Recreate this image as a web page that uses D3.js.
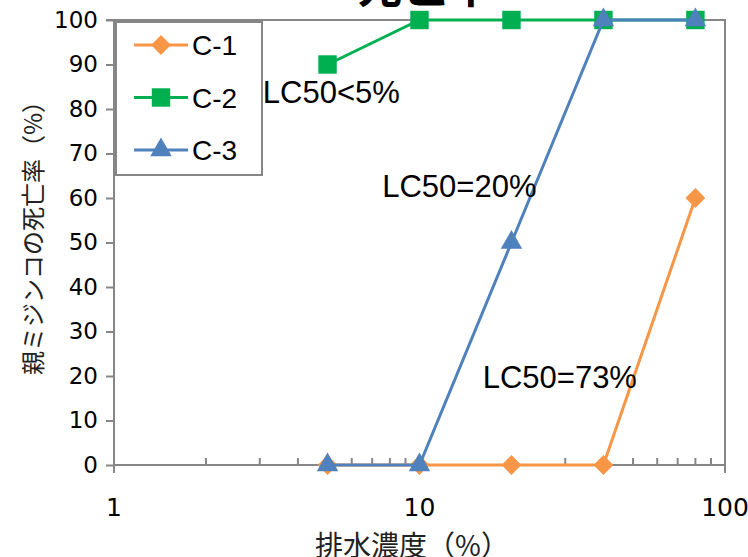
<!DOCTYPE html>
<html><head><meta charset="utf-8">
<script src="https://cdn.jsdelivr.net/npm/d3@7"></script>
<style>body{margin:0;background:#fff}svg{display:block}</style>
</head><body><svg id="c" width="748" height="557"></svg>
<script>
const concentrations = [5, 10, 20, 40, 80];
const seriesNames = ["C-1", "C-2", "C-3"];
const c1 = [0, 0, 0, 0, 60];
const c2 = [90, 100, 100, 100, 100];
const c3 = [0, 0, 50, 100, 100];
const yTicks = [0, 10, 20, 30, 40, 50, 60, 70, 80, 90, 100];
const xTicks = [1, 10, 100];
const annotations = [
  {text: "LC50<5%", x: 3.07, y: 81.3},
  {text: "LC50=20%", x: 7.55, y: 60.2},
  {text: "LC50=73%", x: 16.1, y: 17.3}
];
const titleText = "死亡率";
const xTitle = "排水濃度（%）";
const yTitle = "親ミジンコの死亡率（%）";

const colors = {"C-1": "#F79646", "C-2": "#00B050", "C-3": "#4F81BD"};
const symbols = {"C-1": d3.symbolDiamond2, "C-2": d3.symbolSquare, "C-3": d3.symbolTriangle};
const symSize = {"C-1": 250, "C-2": 340, "C-3": 200};
const data = {"C-1": c1, "C-2": c2, "C-3": c3};

const svg = d3.select("#c");
const L = 114, R = 725, T = 20, B = 465;
const x = d3.scaleLog().domain([1, 100]).range([L, R]);
const y = d3.scaleLinear().domain([0, 100]).range([B, T]);
const axisColor = "#868686";
const numFont = "DejaVu Sans, Verdana, sans-serif";
const jpFont = "'Noto Sans CJK JP', sans-serif";
const latFont = "Liberation Sans, Arial, sans-serif";

// title (cut at top, as in the reference)
svg.append("text").attr("x", 425).attr("y", 2).attr("text-anchor", "middle")
  .attr("font-family", jpFont).attr("font-weight", "bold").attr("font-size", 46)
  .attr("fill", "#000").text(titleText);

// plot border top/right
svg.append("path").attr("d", `M${L},${T}H${R}V${B + 8}`).attr("fill", "none")
  .attr("stroke", axisColor).attr("stroke-width", 2);

// y axis
const yAxis = d3.axisLeft(y).tickValues(yTicks).tickSize(8).tickPadding(8);
const gy = svg.append("g").attr("transform", `translate(${L},0)`).call(yAxis);
gy.select(".domain").attr("stroke", axisColor).attr("stroke-width", 2)
  .attr("d", `M-8,${T}H0V${B + 8}`);
gy.selectAll(".tick line").attr("stroke", axisColor).attr("stroke-width", 2);
gy.selectAll("text").attr("font-family", numFont).attr("font-size", 23).attr("fill", "#000");

// x axis
const minor = [];
[1, 10].forEach(d => { for (let k = 2; k <= 9; k++) minor.push(d * k); });
const gx = svg.append("g").attr("transform", `translate(0,${B})`);
gx.append("line").attr("x1", L).attr("x2", R).attr("stroke", axisColor).attr("stroke-width", 2);
gx.selectAll(".minor").data(minor).join("line").attr("class", "minor")
  .attr("x1", d => x(d)).attr("x2", d => x(d)).attr("y1", -7).attr("y2", 0)
  .attr("stroke", axisColor).attr("stroke-width", 2);
gx.selectAll(".major").data(xTicks).join("line").attr("class", "major")
  .attr("x1", d => x(d)).attr("x2", d => x(d)).attr("y1", -7).attr("y2", 8)
  .attr("stroke", axisColor).attr("stroke-width", 2);
gx.selectAll(".lbl").data(xTicks).join("text").attr("class", "lbl")
  .attr("x", d => x(d)).attr("y", 51).attr("text-anchor", "middle")
  .attr("font-family", numFont).attr("font-size", 25).attr("fill", "#000")
  .text(d => d3.format("d")(d));

// axis titles
svg.append("text").attr("x", 412).attr("y", 556).attr("text-anchor", "middle")
  .attr("font-family", jpFont).attr("font-size", 28).attr("fill", "#222").text(xTitle);
svg.append("text").attr("transform", "translate(42,232) rotate(-90)").attr("text-anchor", "middle")
  .attr("font-family", jpFont).attr("font-size", 24).attr("fill", "#222").text(yTitle);

// series
const line = d3.line().x(d => x(d[0])).y(d => y(d[1]));
seriesNames.forEach(name => {
  const pts = concentrations.map((c, i) => [c, data[name][i]]);
  svg.append("path").datum(pts).attr("d", line).attr("fill", "none")
    .attr("stroke", colors[name]).attr("stroke-width", 3);
  svg.append("g").selectAll("path").data(pts).join("path")
    .attr("transform", d => `translate(${x(d[0])},${y(d[1])})`)
    .attr("d", d3.symbol().type(symbols[name]).size(symSize[name]))
    .attr("fill", colors[name]);
});

// annotations
svg.selectAll(".ann").data(annotations).join("text").attr("class", "ann")
  .attr("x", d => x(d.x)).attr("y", d => y(d.y))
  .attr("font-family", latFont).attr("font-size", 31)
  .attr("fill", "#000").text(d => d.text);

// legend
const lg = svg.append("g");
lg.append("rect").attr("x", 116).attr("y", 22).attr("width", 146).attr("height", 153)
  .attr("fill", "#fff").attr("stroke", axisColor).attr("stroke-width", 2);
seriesNames.forEach((name, i) => {
  const cy = 45 + i * 52.5;
  lg.append("line").attr("x1", 134).attr("x2", 188).attr("y1", cy).attr("y2", cy)
    .attr("stroke", colors[name]).attr("stroke-width", 3);
  lg.append("path").attr("transform", `translate(161,${cy})`)
    .attr("d", d3.symbol().type(symbols[name]).size(symSize[name])).attr("fill", colors[name]);
  lg.append("text").attr("x", 192).attr("y", cy + 10).attr("font-family", latFont)
    .attr("font-size", 28).attr("fill", "#000").text(name);
});
</script></body></html>
